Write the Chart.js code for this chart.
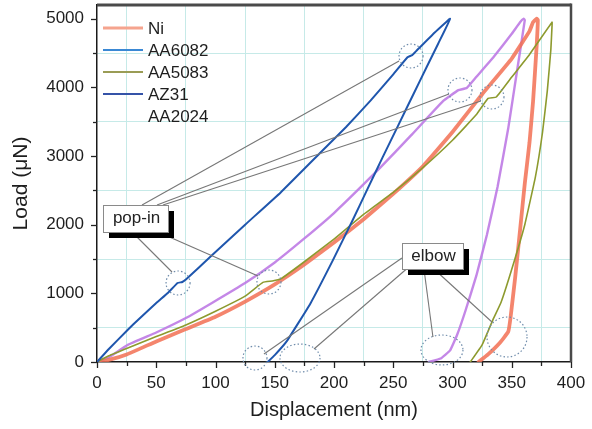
<!DOCTYPE html>
<html><head><meta charset="utf-8">
<script src="https://cdn.jsdelivr.net/npm/chart.js@4.4.1/dist/chart.umd.min.js"></script>
<style>html,body{margin:0;padding:0;background:#fff;}</style>
</head><body>
<canvas id="c" width="592" height="429"></canvas>
<script>
// ---- data ----
const seriesNames = ['Ni', 'AA6082', 'AA5083', 'AZ31', 'AA2024'];

const niDisp = [0, 10, 25, 50, 75, 100, 125, 150, 175, 200, 225, 250, 275, 300, 325, 350, 365, 368, 371, 372, 371, 368, 365, 361, 357, 353, 349, 347, 340, 330, 322];
const niLoad = [0, 30, 110, 300, 480, 660, 880, 1130, 1420, 1740, 2080, 2450, 2850, 3350, 3900, 4420, 4820, 4950, 5000, 4980, 4600, 3800, 3200, 2600, 1920, 1250, 650, 440, 280, 110, 0];

const aa6082Disp = [];
const aa6082Load = [];

const aa5083Disp = [0, 10, 26, 50, 75, 100, 125, 140, 148, 155, 175, 200, 225, 250, 275, 300, 320, 330, 337, 350, 365, 384, 384, 383, 380, 376, 370, 361, 350, 341, 334, 325, 315];
const aa5083Load = [0, 90, 204, 370, 540, 740, 960, 1160, 1180, 1210, 1460, 1790, 2150, 2470, 2830, 3230, 3600, 3840, 3860, 4150, 4480, 4950, 4900, 4550, 3950, 3350, 2700, 2000, 1350, 870, 610, 250, 0];

const az31Disp = [0, 10, 26, 35, 50, 60, 68, 72, 75, 97, 125, 155, 188, 210, 231, 250, 262, 266, 270, 285, 298, 288, 278, 267, 254, 241, 228, 215, 199, 180, 160, 150, 144];
const az31Load = [0, 190, 470, 620, 860, 1010, 1150, 1165, 1200, 1555, 2000, 2470, 3040, 3420, 3810, 4190, 4440, 4470, 4540, 4800, 5000, 4640, 4290, 3900, 3440, 2980, 2510, 2040, 1480, 850, 300, 100, 0];

const aa2024Disp = [0, 10, 26, 50, 75, 97, 125, 150, 175, 200, 239, 265, 292, 305, 312, 320, 335, 350, 357, 360, 361, 355, 347, 338, 329, 320, 311, 304, 298, 290, 280];
const aa2024Load = [0, 70, 250, 430, 640, 860, 1150, 1450, 1800, 2170, 2830, 3300, 3800, 3960, 3990, 4150, 4450, 4780, 4950, 5000, 4980, 4300, 3400, 2550, 1850, 1250, 750, 400, 170, 50, 0];

const xTicks = [0, 50, 100, 150, 200, 250, 300, 350, 400];
const yTicks = [0, 1000, 2000, 3000, 4000, 5000];

// callout anchors, in data units (displacement, load)
const popinCircles = [[68.4, 1151], [145.1, 1165], [265, 4457], [306.3, 3962], [333.3, 3860]];
const popinTargets = [[254.9, 4385], [297, 3904], [324, 3802], [63.3, 1311], [135.9, 1253]];
const popinBoxAt = [32.5, 2090];
const elbowCircles = [[133.3, 58], [171.3, 58], [291.1, 175], [346, 364]];
const elbowTargets = [[140.9, 116.5], [183.1, 189], [283.5, 364], [333.3, 583]];
const elbowBoxAt = [283.1, 1544];

// ---- helpers ----
const pts = (xs, ys) => xs.map((x, i) => ({x: x, y: ys[i]}));
const FONT = "'Liberation Sans', Arial, Helvetica, sans-serif";
// minor positions halfway between labelled ticks
const withMinor = arr => {
  const out = [];
  arr.forEach((v, i) => { out.push({value: v, major: true}); if (i < arr.length - 1) out.push({value: (v + arr[i + 1]) / 2, major: false}); });
  return out;
};

const colors = {
  'Ni': 'rgba(242,112,84,0.85)',
  'AA6082': '#3a88d4',
  'AA5083': '#8d9a2e',
  'AZ31': '#1f56ad',
  'AA2024': 'rgba(190,122,228,0.9)'
};
const legendColors = ['#f5a48e', '#3a88d4', '#9a9c55', '#3553a8', 'rgba(0,0,0,0)'];

const decor = {
  id: 'decor',
  afterDraw(chart) {
    const ctx = chart.ctx, xs = chart.scales.x, ys = chart.scales.y, a = chart.chartArea;
    const px = v => xs.getPixelForValue(v), py = v => ys.getPixelForValue(v);
    ctx.save();
    // frame top/right
    ctx.strokeStyle = '#4a4a4a';
    ctx.lineWidth = 3;
    ctx.beginPath(); ctx.moveTo(a.left, a.top); ctx.lineTo(a.right, a.top); ctx.stroke();
    ctx.lineWidth = 2.5;
    ctx.beginPath(); ctx.moveTo(a.right, a.top - 1.5); ctx.lineTo(a.right, a.bottom); ctx.stroke();
    // tick marks
    ctx.strokeStyle = '#222'; ctx.lineWidth = 1.3;
    withMinor(xTicks).forEach(t => {
      const L = t.major ? 6 : 4, x = Math.round(px(t.value)) + 0.5;
      ctx.beginPath(); ctx.moveTo(x, a.bottom); ctx.lineTo(x, a.bottom + L); ctx.stroke();
    });
    withMinor(yTicks).forEach(t => {
      const L = t.major ? 6 : 4, y = Math.round(py(t.value)) + 0.5;
      ctx.beginPath(); ctx.moveTo(a.left, y); ctx.lineTo(a.left - L, y); ctx.stroke();
    });
    // legend
    ctx.font = '17px ' + FONT; ctx.textBaseline = 'middle'; ctx.textAlign = 'left';
    seriesNames.forEach((n, i) => {
      const y = a.top + 23 + i * 22;
      ctx.strokeStyle = legendColors[i]; ctx.lineWidth = i === 0 ? 3 : 2;
      ctx.beginPath(); ctx.moveTo(a.left + 6, y); ctx.lineTo(a.left + 46, y); ctx.stroke();
      ctx.fillStyle = '#1e1e1e';
      ctx.fillText(n, a.left + 51, y + 1);
    });
    // dotted circles
    ctx.strokeStyle = '#6f8cab'; ctx.lineWidth = 1.2; ctx.setLineDash([1.5, 2.2]);
    popinCircles.forEach(c => { ctx.beginPath(); ctx.arc(px(c[0]), py(c[1]), 12, 0, Math.PI * 2); ctx.stroke(); });
    const er = [[12, 12], [20, 14], [21, 15], [20, 20]];
    elbowCircles.forEach((c, i) => { ctx.beginPath(); ctx.ellipse(px(c[0]), py(c[1]), er[i][0], er[i][1], 0, 0, Math.PI * 2); ctx.stroke(); });
    ctx.setLineDash([]);
    // connectors + boxes
    function callout(at, w, h, text, srcOff, targets) {
      const cx = px(at[0]), cy = py(at[1]);
      ctx.strokeStyle = '#777'; ctx.lineWidth = 1.1;
      targets.forEach((t, i) => {
        ctx.beginPath(); ctx.moveTo(cx + srcOff[i][0], cy + srcOff[i][1]); ctx.lineTo(px(t[0]), py(t[1])); ctx.stroke();
      });
      const l = Math.round(cx - w / 2), t = Math.round(cy - h / 2);
      ctx.fillStyle = '#000';
      ctx.fillRect(l + 6, t + 6, w, h);
      ctx.fillStyle = '#fff';
      ctx.fillRect(l, t, w, h);
      ctx.strokeStyle = '#8a8a8a'; ctx.lineWidth = 1;
      ctx.strokeRect(l + 0.5, t + 0.5, w, h);
      ctx.fillStyle = '#222'; ctx.font = '17px ' + FONT; ctx.textAlign = 'center'; ctx.textBaseline = 'middle';
      ctx.fillText(text, cx + 1, cy);
    }
    callout(popinBoxAt, 65, 27, 'pop-in', [[6.5, -13.5], [21.5, -13.5], [27.5, -13.5], [-3.5, 13.5], [22.5, 13.5]], popinTargets);
    callout(elbowBoxAt, 61, 26, 'elbow', [[-30.5, 2], [-26, 13], [-8.5, 13], [1.5, 13]], elbowTargets);
    ctx.restore();
  }
};

const ds = (name, xs, ys, w) => ({
  label: name, data: pts(xs, ys), borderColor: colors[name], borderWidth: w,
  showLine: true, pointRadius: 0, fill: false, tension: 0.1, borderJoinStyle: 'round', borderCapStyle: 'round'
});

new Chart(document.getElementById('c'), {
  type: 'scatter',
  data: {
    datasets: [
      ds('AZ31', az31Disp, az31Load, 2),
      ds('AA6082', aa6082Disp, aa6082Load, 2),
      ds('AA5083', aa5083Disp, aa5083Load, 1.6),
      ds('Ni', niDisp, niLoad, 3.8),
      ds('AA2024', aa2024Disp, aa2024Load, 2.4)
    ]
  },
  options: {
    responsive: false, animation: false, devicePixelRatio: 1,
    layout: {padding: {top: 5, right: 21, left: 0, bottom: 0}},
    plugins: {legend: {display: false}, tooltip: {enabled: false}},
    scales: {
      x: {
        type: 'linear', min: 0, max: 400,
        afterBuildTicks: s => { s.ticks = withMinor(xTicks); },
        afterFit: s => { s.height = 67; s.paddingLeft = 0; s.paddingRight = 0; },
        ticks: {autoSkip: false, maxRotation: 0, padding: 11, color: '#1e1e1e',
          font: {family: FONT, size: 17},
          callback: v => xTicks.includes(v) ? String(v) : ''},
        grid: {drawTicks: false, lineWidth: 1,
          color: c => (c.tick && !xTicks.includes(c.tick.value)) ? '#c6eae8' : 'rgba(0,0,0,0)'},
        border: {display: true, color: '#1a1a1a', width: 1.5},
        title: {display: true, text: 'Displacement (nm)', color: '#1e1e1e',
          font: {family: FONT, size: 20}, padding: {top: 0, bottom: 7}}
      },
      y: {
        type: 'linear', min: 0, max: 5200,
        afterBuildTicks: s => { s.ticks = withMinor(yTicks); },
        afterFit: s => { s.width = 97; s.paddingTop = 0; s.paddingBottom = 0; },
        ticks: {autoSkip: false, padding: 13, color: '#1e1e1e',
          font: {family: FONT, size: 17},
          callback: v => yTicks.includes(v) ? String(v) : ''},
        grid: {drawTicks: false, lineWidth: 1,
          color: c => (c.tick && !yTicks.includes(c.tick.value)) ? '#c6eae8' : 'rgba(0,0,0,0)'},
        border: {display: true, color: '#1a1a1a', width: 1.5},
        title: {display: true, text: 'Load (μN)', color: '#1e1e1e',
          font: {family: FONT, size: 21}, padding: {top: 9, bottom: 0}}
      }
    }
  },
  plugins: [decor]
});
</script>
</body></html>
